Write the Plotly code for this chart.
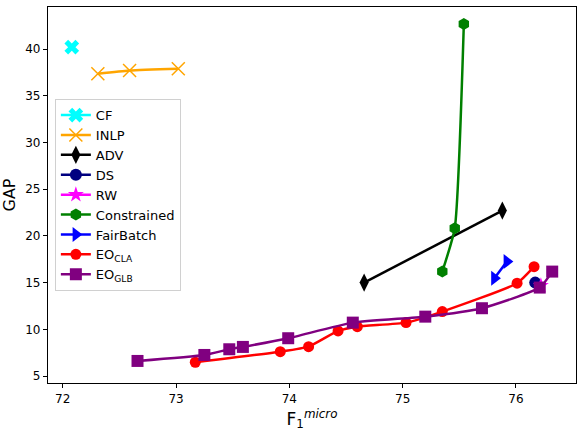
import plotly.graph_objects as go

# values
cf_x = [72.08]
cf_y = [40.2]

inlp_x = [72.31, 72.59, 73.02]
inlp_y = [37.36, 37.71, 37.9]

adv_x = [74.66, 75.88]
adv_y = [15.01, 22.72]

ds_x = [76.17]
ds_y = [15.01]

rw_x = [76.22]
rw_y = [14.69]

con_x = [75.35, 75.46, 75.54]
con_y = [16.19, 20.83, 42.68]

fb_x = [75.81, 75.92]
fb_y = [15.48, 17.26]

cla_x = [73.17, 73.92, 74.17, 74.43, 74.60, 75.03, 75.35, 76.01, 76.16]
cla_y = [6.49, 7.62, 8.16, 9.84, 10.30, 10.73, 11.91, 14.95, 16.72]

glb_x = [72.66, 73.25, 73.47, 73.59, 73.99, 74.56, 75.20, 75.70, 76.21, 76.32]
glb_y = [6.63, 7.27, 7.88, 8.13, 9.06, 10.73, 11.37, 12.27, 14.48, 16.19]

x_ticks = [72, 73, 74, 75, 76]
y_ticks = [5, 10, 15, 20, 25, 30, 35, 40]

series = [
    ('CF', cf_x, cf_y, 'cyan', 'x', 13),
    ('INLP', inlp_x, inlp_y, 'orange', 'x-thin-open', 13),
    ('ADV', adv_x, adv_y, 'black', 'diamond-tall', 13),
    ('DS', ds_x, ds_y, 'navy', 'circle', 12),
    ('RW', rw_x, rw_y, 'magenta', 'star', 12),
    ('Constrained', con_x, con_y, 'green', 'hexagon', 12),
    ('FairBatch', fb_x, fb_y, 'blue', 'triangle-right', 13),
    ('EO<sub>CLA</sub>', cla_x, cla_y, 'red', 'circle', 11),
    ('EO<sub>GLB</sub>', glb_x, glb_y, 'purple', 'square', 12),
]

fig = go.Figure()
for name, xs, ys, col, sym, sz in series:
    mk = dict(symbol=sym, size=sz, color=col)
    if sym == 'x-thin-open':
        mk['line'] = dict(color=col, width=1.5)
    fig.add_trace(go.Scatter(x=xs, y=ys, name=name, mode='lines+markers',
                             line=dict(color=col, width=2.5, shape='spline', smoothing=0.5),
                             marker=mk))

axis_style = dict(showline=True, linecolor='black', linewidth=1.2, mirror=True,
                  ticks='outside', ticklen=4, tickcolor='black', showgrid=False,
                  zeroline=False, automargin=False, tickfont=dict(size=12, color='black'))

fig.update_xaxes(range=[71.87, 76.53], tickvals=x_ticks, **axis_style,
                 title=dict(text='F<sub>1</sub><sup><i>micro</i></sup>',
                            font=dict(size=17, color='black'), standoff=8))
fig.update_yaxes(range=[4.27, 44.5], tickvals=y_ticks, **axis_style,
                 title=dict(text='GAP', font=dict(size=16, color='black'), standoff=8))

fig.update_layout(
    width=584, height=432,
    margin=dict(l=48, r=8, t=7, b=49),
    plot_bgcolor='white', paper_bgcolor='white',
    font=dict(family='DejaVu Sans', color='black'),
    legend=dict(x=0.013, y=0.755, xanchor='left', yanchor='top',
                bgcolor='white', bordercolor='#d0d0d0', borderwidth=1,
                font=dict(size=13), tracegroupgap=0, itemwidth=30),
    showlegend=True,
)

# page body has a default 8px margin; drop it so the figure sits at the corner
fig.write_html("out.html", config={'displayModeBar': False},
               post_script="document.body.style.margin='0';")
